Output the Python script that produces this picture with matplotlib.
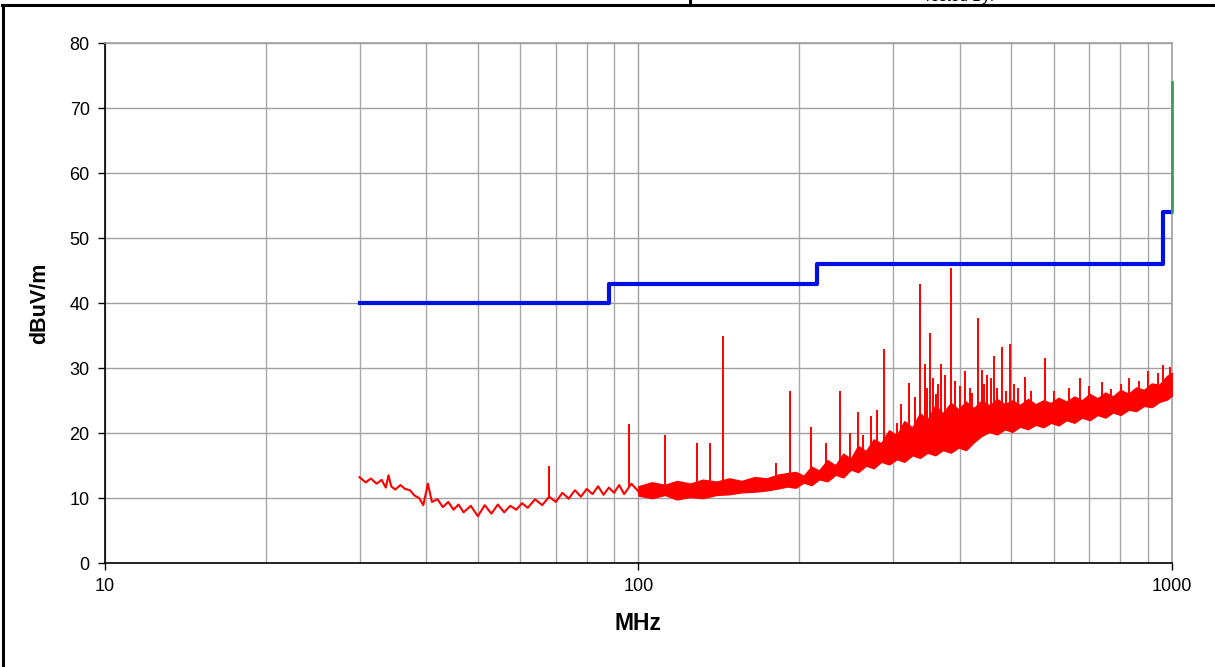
import numpy as np
import matplotlib
matplotlib.use("Agg")
import matplotlib.pyplot as plt
from matplotlib.lines import Line2D
from matplotlib.ticker import FixedLocator, NullFormatter

plt.rcParams['font.family'] = ['Liberation Sans', 'DejaVu Sans']

# limit line (step levels, dBuV/m)
limit_f = [30, 88, 216, 960, 1000]
limit_db = [40, 43, 46, 54, 54]

# upper limit marker at 1 GHz
upper_f = [1000, 1000]
upper_db = [54, 74]

# measured trace, low band (MHz, dBuV/m)
trace_f = [30, 30.8, 31.5, 32.3, 33, 33.6, 34.0, 34.4, 35, 35.8, 36.5, 37.3, 38, 38.8,
           39.5, 40.3, 41, 42, 43, 44, 45, 46, 47, 48.5, 50, 51.5, 53, 54.5, 56, 57.5,
           59, 60.5, 62, 64, 66, 68, 70, 72, 74, 76, 78, 80, 82, 84, 86, 88, 90, 92,
           94, 97, 100]
trace_db = [13.2, 12.4, 13.0, 12.2, 12.8, 11.6, 13.5, 11.8, 11.3, 12.0, 11.4, 11.2, 10.4, 10.0,
            8.9, 12.2, 9.4, 9.8, 8.6, 9.4, 8.2, 9.0, 7.8, 8.8, 7.2, 8.9, 7.6, 9.0, 7.8, 8.8,
            8.2, 9.2, 8.5, 9.8, 8.9, 10.2, 9.4, 10.8, 9.9, 11.2, 10.2, 11.4, 10.6, 11.8, 10.5, 11.6,
            10.8, 12.0, 10.6, 12.2, 11.0]

# dense noise band above 100 MHz (lower / upper edge)
band_f = [100, 106, 112, 118, 125, 132, 140, 148, 156, 165, 174, 183, 190,
          197, 204, 211, 218, 226, 234, 242, 250, 258, 267, 276, 285, 295, 305, 315,
          326, 337, 348, 360, 372, 385, 398, 411, 425, 440, 455, 470, 486, 502, 519, 537,
          555, 574, 593, 613, 634, 656, 678, 701, 725, 750, 775, 801, 829, 857, 886, 916,
          947, 980, 1000]
band_lo = [10.4, 10.0, 10.5, 9.8, 10.2, 10.0, 10.5, 10.6, 10.9, 11.0, 11.2, 11.5, 11.8,
           11.6, 12.4, 12.0, 12.9, 12.6, 13.6, 13.2, 14.4, 14.0, 15.0, 14.6, 15.6, 15.2,
           16.0, 15.6, 16.6, 16.2, 17.0, 16.6, 17.4, 17.0, 17.8, 17.4, 18.6, 19.6, 20.2, 19.8,
           20.6, 20.2, 21.0, 20.6, 21.3, 20.9, 21.6, 21.2, 22.0, 21.6, 22.4, 22.0, 22.8, 22.4,
           23.2, 22.8, 23.6, 23.4, 24.2, 24.0, 24.8, 25.2, 25.8]
band_hi = [11.8, 12.4, 12.0, 12.6, 12.2, 12.8, 12.5, 13.0, 12.6, 13.2, 13.0, 13.6, 13.8,
           14.0, 13.4, 14.8, 14.2, 15.8, 15.0, 16.8, 16.0, 18.0, 17.2, 19.0, 18.4, 20.4,
           19.6, 21.8, 20.8, 23.0, 22.0, 24.2, 23.0, 24.6, 23.6, 24.8, 23.8, 25.0, 24.2, 25.2,
           24.4, 25.0, 24.3, 25.2, 24.4, 25.0, 24.6, 25.4, 24.8, 25.6, 25.0, 26.0, 25.3, 26.2,
           25.6, 26.6, 26.0, 27.0, 26.6, 27.6, 27.4, 28.8, 29.2]

# narrowband emissions (MHz, peak dBuV/m)
spike_f = [67.9, 96.0, 112.1, 128.7, 136.2, 144.0, 181, 192.3, 210.6, 224.6, 238.6,
           249.2, 257.9, 263.5, 272.8, 279.9, 288.5, 305.2, 321.4, 337.0, 344.4, 352.0,
           361.2, 369.1, 385.3, 400.6, 421.9, 433.0, 440.5, 450.1, 463.9, 480.2, 497.0,
           505.7, 530.3, 578.1, 672.4, 768.6, 802.5, 867.6, 962,
           310, 330, 347, 356, 365, 375, 392, 410, 418, 445, 458, 470, 488, 515, 545,
           600, 640, 700, 740, 830, 900, 940, 990]
spike_db = [14.9, 21.4, 19.7, 18.5, 18.5, 35.0, 15.4, 26.5, 21.0, 18.5, 26.5,
            20.0, 23.3, 19.7, 22.6, 23.5, 32.9, 21.5, 27.7, 42.9, 30.6, 35.4,
            26.0, 30.6, 45.4, 27.2, 26.2, 37.7, 29.7, 28.9, 31.8, 33.2, 33.7,
            27.5, 28.6, 31.5, 28.5, 26.8, 27.5, 28.0, 30.5,
            24.5, 25.5, 27.0, 28.5, 27.5, 29.0, 28.0, 29.5, 27.0, 27.5, 28.5, 27.0, 26.5,
            27.0, 26.5, 26.5, 27.0, 27.2, 27.8, 28.5, 29.5, 29.2, 30.2]

fig = plt.figure(figsize=(12.15, 6.67), dpi=100)
ax = fig.add_axes([0.0864, 0.1559, 0.8782, 0.7796])

ax.set_xscale('log')
ax.set_xlim(10, 1000)
ax.set_ylim(0, 80)

red = '#ff0000'
ax.plot(trace_f, trace_db, color=red, lw=1.5, zorder=3)
ax.fill_between(band_f, band_lo, band_hi, color=red, lw=1.2, zorder=3)
# spike bases sit on the lower edge of the noise
base = np.interp(np.log10(spike_f),
                 np.log10(trace_f + band_f),
                 np.concatenate([trace_db, band_lo]))
ax.vlines(spike_f, base, spike_db, color=red, lw=1.4, zorder=3)

ax.step(limit_f, limit_db, where='post', color='#0010e0', lw=3.0, zorder=4)
ax.plot(upper_f, upper_db, color='#3c9c5c', lw=2.0, zorder=6, clip_on=False)

# axes styling
ax.xaxis.set_major_locator(FixedLocator([10, 100, 1000]))
ax.set_xticklabels(['10', '100', '1000'])
ax.xaxis.set_minor_locator(FixedLocator([20, 30, 40, 50, 60, 70, 80, 90,
                                         200, 300, 400, 500, 600, 700, 800, 900]))
ax.xaxis.set_minor_formatter(NullFormatter())
ax.set_yticks(range(0, 81, 10))
ax.tick_params(axis='both', which='major', direction='out', length=5, width=1,
               labelsize=13, colors='black', pad=6)
ax.tick_params(axis='x', which='minor', length=0)
ax.grid(True, which='major', color='#a0a0a0', lw=1)
ax.grid(True, which='minor', axis='x', color='#a8a8a8', lw=1)
ax.set_axisbelow(True)
for s in ['left', 'bottom']:
    ax.spines[s].set_color('black')
    ax.spines[s].set_linewidth(1.2)
for s in ['top', 'right']:
    ax.spines[s].set_color('#a0a0a0')
    ax.spines[s].set_linewidth(1.2)

ax.set_xlabel('MHz', fontsize=16.5, fontweight='bold', labelpad=12)
ax.set_ylabel('dBuV/m', fontsize=15.5, fontweight='bold', labelpad=14)

# page frame around the plot
fig.add_artist(Line2D([3 / 1215, 3 / 1215], [0, 1 - 5 / 667], color='black', lw=2.2,
                      transform=fig.transFigure))
fig.add_artist(Line2D([2 / 1215, 1], [1 - 5 / 667, 1 - 5 / 667], color='black', lw=2.2,
                      transform=fig.transFigure))
fig.add_artist(Line2D([690 / 1215, 690 / 1215], [1 - 5 / 667, 1], color='black', lw=2.2,
                      transform=fig.transFigure))
fig.text(958 / 1215, 1 - 4 / 667, 'Tested By:', fontsize=11, ha='center', va='bottom')

fig.savefig('out.png', dpi=100)
